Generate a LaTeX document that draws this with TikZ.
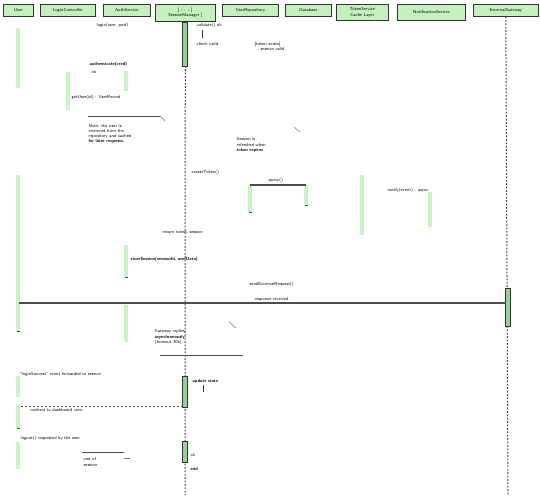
\documentclass[tikz,border=0pt]{standalone}
\usetikzlibrary{arrows.meta}
\definecolor{hdr}{RGB}{196,240,190}
\definecolor{actg}{RGB}{200,245,195}
\definecolor{actd}{RGB}{150,210,145}
\begin{document}
\begin{tikzpicture}[x=1pt,y=-1pt,
  tiny/.style={font=\sffamily\fontsize{4.4}{5.2}\selectfont, text=black},
  head/.style={tiny, draw=black!80, fill=hdr, line width=0.6pt, inner sep=0.5pt, anchor=north west, align=center},
  act/.style={fill=actg, draw=none},
  actb/.style={fill=actd, draw=black!80, line width=0.6pt},
  lbl/.style={tiny, inner sep=0.5pt, anchor=west, align=left},
  life/.style={dash pattern=on 1.8pt off 1.6pt, line width=1pt, black!75},
  msg/.style={black!70, line width=1.1pt},
  rmsg/.style={black!70, dash pattern=on 2pt off 2pt, line width=0.7pt},
  ear/.style={black!55, line width=0.5pt}]
\useasboundingbox (0,0) rectangle (540,495);
% headers
\node[head, minimum width=30pt, minimum height=12pt] (h1) at (3,4) {User};
\node[head, minimum width=55pt, minimum height=12pt] (h2) at (40,4) {LoginController};
\node[head, minimum width=47pt, minimum height=12pt] (h3) at (103,4) {AuthService};
\node[head, minimum width=60pt, minimum height=17pt] (h4) at (155,4) {[ : : : ]\\SessionManager ]};
\node[head, minimum width=56pt, minimum height=12pt] (h5) at (222,4) {UserRepository};
\node[head, minimum width=46pt, minimum height=12pt] (h6) at (285,4) {Database};
\node[head, minimum width=52pt, minimum height=16pt] (h7) at (336,4) {TokenService\\Cache Layer};
\node[head, minimum width=68pt, minimum height=16pt, line width=0.9pt] (h8) at (397,4) {NotificationService};
\node[head, minimum width=65pt, minimum height=12pt] (h9) at (473,4) {ExternalGateway};
% lifelines
\coordinate (l4e) at (185,495);
\coordinate (l9e) at (508,495);
\draw[life] (h4.south) -- (l4e);
\draw[life] (h9.south) -- (l9e);
% activations (light)
\foreach \n/\x/\a/\b in {a1/18/28/88, a2/18/175/331, a3/68/72/110, a4/126/71/91, a5/126/245/277,
  a6/126/305/342, a8/250/185/212, a9/306/185/205, a10/362/175/235, a11/430/192/227,
  a13/18/376/397, a14/18/405/428, a15/18/442/469}
  {\path[act] (\x-1.6,\a) rectangle (\x+1.6,\b); \coordinate (\n t) at (\x,\a); \coordinate (\n b) at (\x,\b);}
% activations (bordered)
\foreach \n/\x/\a/\b in {a7/185/22/66, a12/508/288/326, a16/185/376/407, a17/185/441/462}
  {\draw[actb] (\x-2.5,\a) rectangle (\x+2.5,\b); \coordinate (\n t) at (\x,\a); \coordinate (\n b) at (\x,\b);}
% activation end ticks
\foreach \p in {a8b,a9b,a5b,a14b,a2b}{\draw[black!70, line width=0.6pt] ([xshift=-1.5pt]\p) -- ([xshift=1.5pt]\p);}
% messages
\draw[msg] (a8t) -- (a9t);
\coordinate (m3s) at (19,303); \coordinate (m3e) at (506,303);
\draw[msg] (m3s) -- (m3e);
\coordinate (r1s) at (183,406); \coordinate (r1e) at (19,406);
\draw[rmsg] (r1s) -- (r1e);
% note marks
\coordinate (n1a) at (88,116); \coordinate (n1b) at (160,116); \coordinate (n1c) at (165,121);
\draw[msg, line width=0.9pt] (n1a) -- (n1b);
\draw[ear] (n1b) -- (n1c);
\coordinate (n2a) at (294,127); \coordinate (n2b) at (300,132);
\draw[ear] (n2a) -- (n2b);
\coordinate (n3a) at (229,322); \coordinate (n3b) at (236,328);
\draw[ear] (n3a) -- (n3b);
\coordinate (n3c) at (160,355); \coordinate (n3d) at (243,355);
\draw[msg, line width=0.9pt] (n3c) -- (n3d);
\coordinate (n5a) at (82,452); \coordinate (n5b) at (124,452);
\draw[msg, line width=0.8pt] (n5a) -- (n5b);
\coordinate (n5c) at (124,458); \coordinate (n5d) at (130,458);
\draw[ear] (n5c) -- (n5d);
\coordinate (t1a) at (203,385); \coordinate (t1b) at (203,392);
\draw[black!80, line width=0.6pt] (t1a) -- (t1b);
\coordinate (t2a) at (202,30); \coordinate (t2b) at (202,38);
\draw[black!80, line width=0.6pt] (t2a) -- (t2b);
% labels
\node[lbl] (L1) at (96,25) {login(user, pwd)};
\node[lbl] (L2) at (196,25) {validate()  ok};
\node[lbl] (L3) at (196,44) {check valid};
\node[lbl] (L4) at (254,44) {[token exists]};
\node[lbl] (L4b) at (260,49) {session valid};
\node[lbl] (L5) at (89,64) {\textbf{authenticate(cred)}};
\node[lbl] (L6) at (91,72) {ok};
\node[lbl] (L7) at (71,97) {getUser(id) : UserRecord};
\node[lbl] (L8) at (88,134) {Note: the user is\\retrieved from the\\repository and cached\\\textbf{for later requests.}};
\node[lbl] (L9) at (236,145) {Session is\\refreshed when\\\textbf{token expires}};
\node[lbl] (L10) at (191,172) {createToken()};
\node[lbl] (L11) at (268,180) {query()};
\node[lbl] (L12) at (387,190) {notify(event) : async};
\node[lbl] (L13) at (162,232) {return token, session};
\node[lbl] (L14) at (130,259) {\textbf{storeSession(sessionId, userData)}};
\node[lbl] (L15) at (249,284) {sendExternalRequest()};
\node[lbl] (L16) at (254,299) {response received};
\node[lbl] (L17) at (154,337) {Gateway replies\\\textbf{asynchronously}\\(timeout 30s)};
\node[lbl] (L18) at (19,374) {"loginSuccess"  event  forwarded  to  session};
\node[lbl] (L19) at (192,381) {\textbf{update state}};
\node[lbl] (L20) at (30,410) {redirect to dashboard view};
\node[lbl] (L21) at (20,438) {logout() requested by the user};
\node[lbl] (L22) at (83,462) {end of\\session};
\node[lbl] (L23) at (190,455) {ok};
\node[lbl] (L24) at (190,469) {\textbf{end}};
\end{tikzpicture}
\end{document}
